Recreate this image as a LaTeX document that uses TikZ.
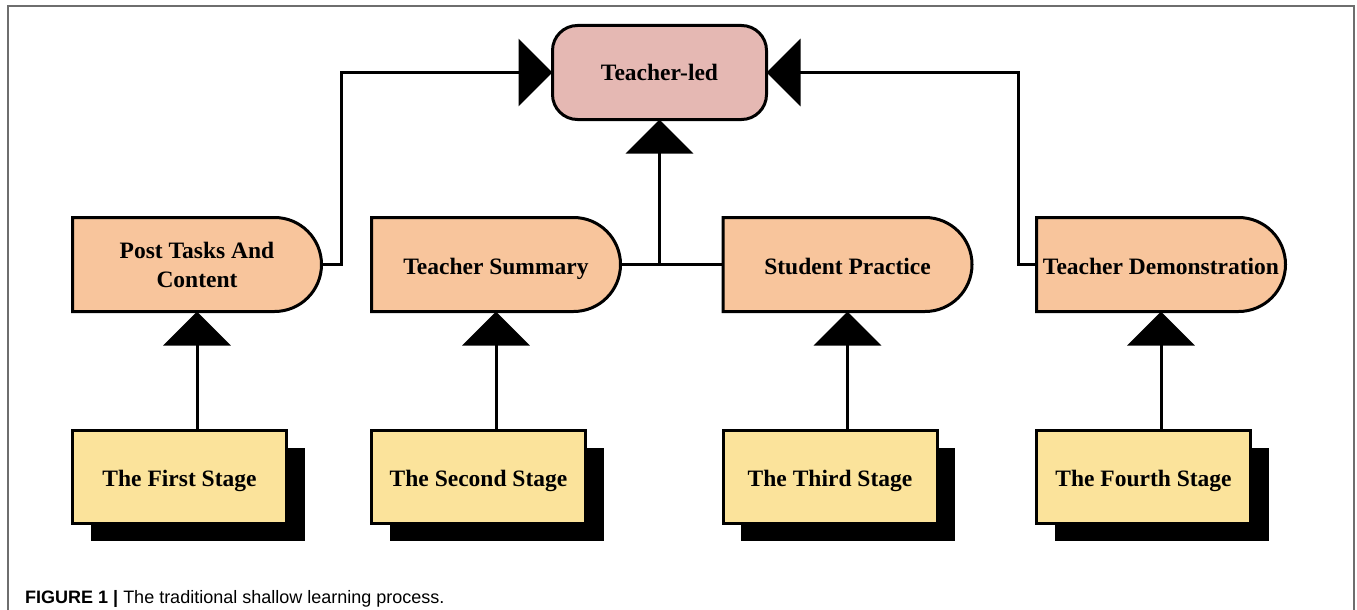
\documentclass[tikz,border=0pt]{standalone}
\usepackage{fontspec}
\setmainfont{Liberation Serif}
\newfontfamily\capfont{Liberation Sans}
\usetikzlibrary{arrows.meta,shadows,backgrounds}
\definecolor{tlfill}{HTML}{E5B8B3}
\definecolor{dfill}{HTML}{F8C59C}
\definecolor{sfill}{HTML}{FBE39B}
\definecolor{framegray}{HTML}{6E6E6E}
\begin{document}
\begin{tikzpicture}[x=1pt,y=1pt,
  lbl/.style={font=\fontsize{23.5}{29}\selectfont\bfseries, align=center, text=black},
  oneline/.style={text height=19pt, text depth=0pt},
  tlbox/.style={lbl, draw, line width=3pt, fill=tlfill, rounded corners=25pt, minimum width=214pt, minimum height=94pt, inner sep=0pt, outer sep=0pt, text height=16.5pt, text depth=0pt},
  dbox/.style={lbl, minimum width=249pt, minimum height=94pt, inner sep=0pt, outer sep=0pt},
  dshape/.style={draw, line width=3pt, fill=dfill},
  stagebox/.style={lbl, oneline, draw, line width=3pt, fill=sfill, minimum width=214pt, minimum height=93pt, inner sep=0pt, outer sep=0pt, drop shadow={shadow xshift=18pt, shadow yshift=-18pt, fill=black, opacity=1}},
  conn/.style={line width=3pt},
  arr/.style={conn, -{Triangle[length=34pt,width=67pt]}},
]
\useasboundingbox (0,0) rectangle (1357,-610);
\draw[framegray, line width=2pt] (8,-610) -- (8,-6) -- (1354,-6) -- (1354,-610);

\node[tlbox] (tl) at (659.5,-72.5) {Teacher-led};

\node[dbox] (post) at (197,-264.5) {Post Tasks And\\Content};
\node[dbox, oneline] (summ) at (496,-264.5) {Teacher Summary};
\node[dbox, oneline] (prac) at (847.5,-264.5) {Student Practice};
\node[dbox, oneline] (demo) at (1161,-264.5) {Teacher Demonstration};
\begin{scope}[on background layer]
\foreach \n in {post,summ,prac,demo}{
  \draw[dshape] (\n.north west) -- ([xshift=-47pt]\n.north east) arc[start angle=90,end angle=-90,radius=47pt] -- (\n.south west) -- cycle;
}
\end{scope}

\node[stagebox] (s1) at (179.5,-476.5) {The First Stage};
\node[stagebox] (s2) at (478.5,-476.5) {The Second Stage};
\node[stagebox] (s3) at (830,-476.5) {The Third Stage};
\node[stagebox] (s4) at (1143.5,-476.5) {The Fourth Stage};

\draw[arr] (post.east) -- ++(19.5,0) |- (tl.west);
\draw[arr] (demo.west) -- ++(-18.5,0) |- (tl.east);
\draw[conn] (summ.east) -- (prac.west);
\coordinate (j) at (tl.south |- summ.east);
\draw[arr] (j) -- (tl.south);

\draw[arr] (post.south |- s1.north) -- (post.south);
\draw[arr] (summ.south |- s2.north) -- (summ.south);
\draw[arr] (prac.south |- s3.north) -- (prac.south);
\draw[arr] (demo.south |- s4.north) -- (demo.south);

\node[anchor=base west, inner sep=0pt, font=\capfont\fontsize{18}{22}\selectfont] (cap) at (25,-603) {\textbf{FIGURE 1 |} The traditional shallow learning process.};
\end{tikzpicture}
\end{document}
